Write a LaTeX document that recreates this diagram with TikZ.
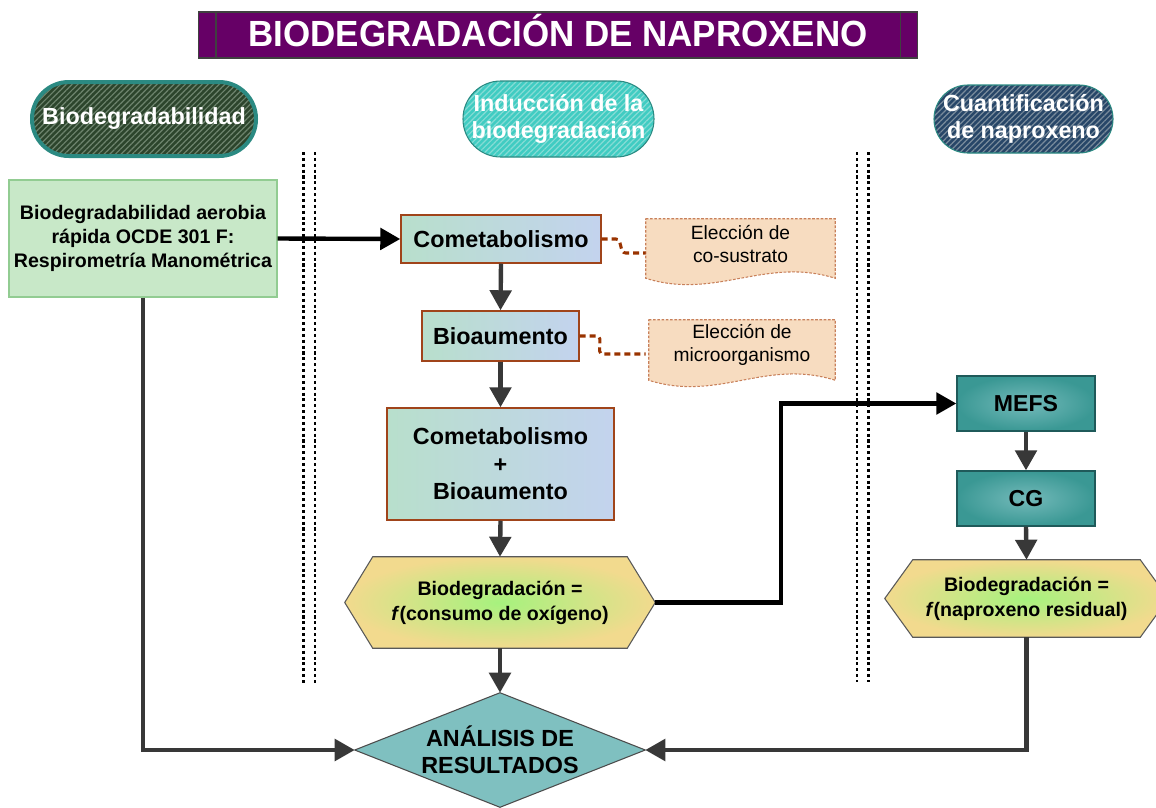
\documentclass[tikz,border=0pt]{standalone}
\usepackage{fontspec}
\setmainfont{Liberation Sans}
\usetikzlibrary{arrows.meta,patterns.meta,backgrounds,calc}
\definecolor{titlepurple}{HTML}{660066}
\definecolor{capteal}{HTML}{2B8A82}
\definecolor{capgreen}{HTML}{2C452C}
\definecolor{capgreenL}{HTML}{6E846E}
\definecolor{capturq}{HTML}{40CCC2}
\definecolor{capturqL}{HTML}{86DCD5}
\definecolor{capblue}{HTML}{274668}
\definecolor{capblueL}{HTML}{7A8C9C}
\definecolor{boxgreen}{HTML}{C8E8C8}
\definecolor{boxgreenD}{HTML}{92CC92}
\definecolor{gradL}{HTML}{B8DFCC}
\definecolor{gradR}{HTML}{C3D3EE}
\definecolor{boxbrown}{HTML}{A0441A}
\definecolor{notefill}{HTML}{F7DCC0}
\definecolor{noteline}{HTML}{C8805A}
\definecolor{linkbrown}{HTML}{993300}
\definecolor{hexin}{HTML}{A6F27E}
\definecolor{hexout}{HTML}{F2DA8E}
\definecolor{diamfill}{HTML}{7FC0C0}
\definecolor{tealin}{HTML}{74BABA}
\definecolor{tealout}{HTML}{3A9894}
\definecolor{tealD}{HTML}{1F5A5A}
\definecolor{arrgray}{HTML}{383838}
\tikzset{
  capsule/.style={rectangle, inner sep=0pt, text=white, align=center,
    font=\fontsize{17.5}{20}\selectfont\bfseries},
  arrowbase/.style={line width=3.3pt, -{Triangle[length=15pt,width=16pt]}},
  blackarr/.style={arrowbase, draw=black},
  grayarr/.style={arrowbase, draw=arrgray},
  gradbox/.style={draw=boxbrown, line width=1.1pt, left color=gradL, right color=gradR,
    inner sep=0pt, align=center, font=\fontsize{17.5}{20.6}\selectfont\bfseries},
  tealbox/.style={draw=tealD, line width=1pt, inner color=tealin, outer color=tealout,
    inner sep=0pt, minimum width=138*0.75pt, minimum height=55*0.75pt,
    font=\fontsize{17.3}{20}\selectfont\bfseries},
  frame/.style={inner sep=0pt, align=center},
  notetext/.style={inner sep=0pt, align=center, font=\fontsize{14.4}{17.3}\selectfont},
  noteshape/.style={draw=noteline, fill=notefill, line width=0.8pt, dash pattern=on 2pt off 1.2pt},
  notelink/.style={draw=linkbrown, line width=2.3pt, dash pattern=on 4.5pt off 3pt},
  hexshape/.style={draw=black!65, line width=0.8pt, inner color=hexin, outer color=hexout},
  hextext/.style={frame, font=\fontsize{14.7}{18.75}\selectfont\bfseries},
  sepline/.style={draw=black, line width=1.6pt, dash pattern=on 2.3pt off 2.1pt},
}
\begin{document}
\begin{tikzpicture}[x=0.75pt,y=-0.75pt]
\useasboundingbox (0,0) rectangle (1156,807);
\clip (0,0) rectangle (1156,807);

% separators
\draw[sepline] (303.5,152) -- (303.5,684);
\draw[sepline] (315,152) -- (315,684);
\draw[sepline] (857,152) -- (857,682);
\draw[sepline] (868.5,152) -- (868.5,682);

% title
\node[fill=titlepurple, draw=black!75, line width=0.8pt, inner sep=0pt,
  minimum width=719*0.75pt, minimum height=46*0.75pt, text=white,
  text height=19.5pt, text depth=3pt,
  font=\fontsize{27.3}{30}\selectfont\bfseries] (title) at (558,35)
  {\scalebox{0.96}[1]{BIODEGRADACIÓN DE NAPROXENO}};
\draw[black!75, line width=0.8pt] ($(title.north west)+(18,0)$) -- ($(title.south west)+(18,0)$);
\draw[black!75, line width=0.8pt] ($(title.north east)+(-18,0)$) -- ($(title.south east)+(-18,0)$);

% column headers
\node[capsule, draw=capteal, line width=3pt, rounded corners=27.6pt,
  preaction={fill=capgreen}, pattern={Lines[angle=45,distance=3pt,line width=0.9pt]},
  pattern color=capgreenL, minimum width=224*0.75pt, minimum height=74*0.75pt]
  (cap1) at (144,119) {Biodegradabilidad};
\node[capsule, draw=capteal, line width=0.8pt, rounded corners=28.4pt,
  preaction={fill=capturq}, pattern={Lines[angle=45,distance=3pt,line width=0.9pt]},
  pattern color=capturqL, minimum width=191*0.75pt, minimum height=76*0.75pt]
  (cap2) at (558.5,119) {Inducción de la\\biodegradación};
\node[capsule, draw=capteal, line width=0.8pt, rounded corners=25.4pt,
  preaction={fill=capblue}, pattern={Lines[angle=45,distance=3pt,line width=0.9pt]},
  pattern color=capblueL, minimum width=179*0.75pt, minimum height=68*0.75pt]
  (cap3) at (1023.5,119) {Cuantificación\\de naproxeno};

% left column
\node[draw=boxgreenD, fill=boxgreen, line width=1pt, inner sep=0pt,
  minimum width=268*0.75pt, minimum height=117*0.75pt, align=center,
  font=\fontsize{14.7}{17.8}\selectfont\bfseries] (b1) at (143,238.5)
  {Biodegradabilidad aerobia\\rápida OCDE 301 F:\\Respirometría Manométrica};

% middle column
\node[gradbox, minimum width=200*0.75pt, minimum height=48*0.75pt] (come) at (501,239) {Cometabolismo};
\node[gradbox, minimum width=157*0.75pt, minimum height=50*0.75pt] (bioa) at (500.5,336) {Bioaumento};
\node[gradbox, minimum width=227*0.75pt, minimum height=112*0.75pt] (cb) at (500.5,464)
  {Cometabolismo\\+\\Bioaumento};

% notes (frames + texts)
\node[frame, minimum width=189*0.75pt, minimum height=59*0.75pt] (n1) at (740.5,248.5) {};
\node[notetext] (n1t) at (740.5,244) {Elección de\\co-sustrato};
\node[frame, minimum width=186*0.75pt, minimum height=60*0.75pt] (n2) at (742,350) {};
\node[notetext] (n2t) at (742,344.5) {Elección de\\microorganismo};

% hexagons and diamond (frames with text)
\node[hextext, minimum width=310*0.75pt, minimum height=91*0.75pt] (hex1) at (500,602.5)
  {Biodegradación =\\\textit{f}(consumo de oxígeno)};
\node[tealbox] (mefs) at (1026,403.5) {MEFS};
\node[tealbox] (cg) at (1026,498.5) {CG};
\node[hextext, minimum width=283*0.75pt, minimum height=77*0.75pt] (hex2) at (1026.5,598.5)
  {Biodegradación =\\\textit{f}(naproxeno residual)};
\node[frame, minimum width=290*0.75pt, minimum height=114*0.75pt,
  font=\fontsize{17.5}{20}\selectfont\bfseries] (diam) at (500,750)
  {ANÁLISIS DE\\RESULTADOS};

\begin{scope}[on background layer]
  \path[noteshape] (n1.north west) -- (n1.north east) -- (n1.south east)
    .. controls +(-70,-22) and +(70,22) .. (n1.south west) -- cycle;
  \path[noteshape] (n2.north west) -- (n2.north east) -- (n2.south east)
    .. controls +(-70,-22) and +(70,22) .. (n2.south west) -- cycle;
  \path[hexshape] ($(hex1.north west)+(28,0)$) -- ($(hex1.north east)+(-28,0)$) -- (hex1.east)
    -- ($(hex1.south east)+(-28,0)$) -- ($(hex1.south west)+(28,0)$) -- (hex1.west) -- cycle;
  \path[hexshape] ($(hex2.north west)+(28,0)$) -- ($(hex2.north east)+(-28,0)$) -- (hex2.east)
    -- ($(hex2.south east)+(-28,0)$) -- ($(hex2.south west)+(28,0)$) -- (hex2.west) -- cycle;
  \path[draw=black!70, line width=0.8pt, fill=diamfill]
    (diam.north) -- (diam.east) -- (diam.south) -- (diam.west) -- cycle;
\end{scope}

% note links
\draw[notelink] (come.east) -- ++(14,0) to[out=0,in=180] ($(n1.west)+(-20,4.5)$) -- ($(n1.west)+(0,4.5)$);
\draw[notelink] (bioa.east) -- ++(17,0) to[out=0,in=180] ($(n2.west)+(-46,4)$) -- ($(n2.west)+(-3,4)$);

% arrows
\coordinate (bend) at (781,500);
\draw[blackarr] (b1.east) -- (come.west);
\draw[grayarr] (come.south) -- (bioa.north);
\draw[grayarr] (bioa.south) -- (cb.north);
\draw[grayarr] (cb.south) -- (hex1.north);
\draw[grayarr] (hex1.south) -- (diam.north);
\draw[blackarr] (hex1.east) -| (bend |- mefs.west) -- (mefs.west);
\draw[grayarr] (mefs.south) -- (cg.north);
\draw[grayarr] (cg.south) -- (hex2.north);
\draw[grayarr] (hex2.south) |- (diam.east);
\draw[grayarr] (b1.south) |- (diam.west);
\end{tikzpicture}
\end{document}
